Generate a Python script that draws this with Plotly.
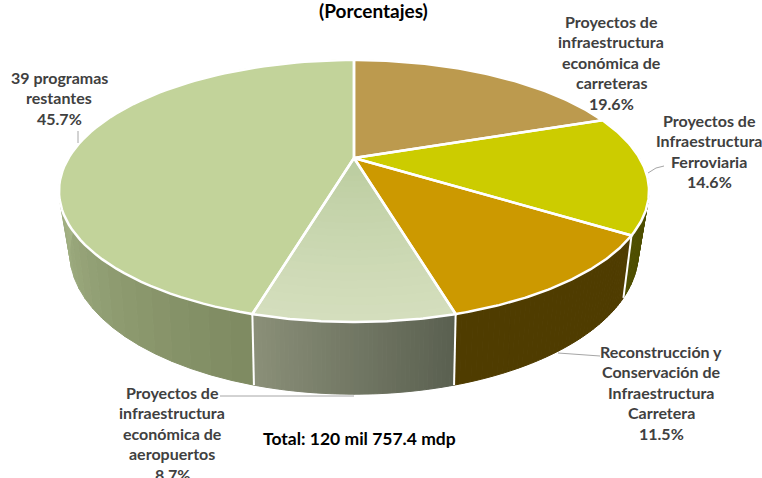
import numpy as np
import plotly.graph_objects as go

# rebanadas en el sentido del reloj desde arriba
etiquetas = [
    ["Proyectos de", "infraestructura", "económica de", "carreteras", "19.6%"],
    ["Proyectos de", "Infraestructura", "Ferroviaria", "14.6%"],
    ["Reconstrucción y", "Conservación de", "Infraestructura", "Carretera", "11.5%"],
    ["Proyectos de", "infraestructura", "económica de", "aeropuertos", "8.7%"],
    ["39 programas", "restantes", "45.7%"],
]
valores = [19.6, 14.6, 11.5, 8.7, 45.7]
color_tapa = ["#BC9A4E", "#CCCC00", "#CC9900", None, "#C2D39A"]
lado_ini = [None, "#4F4F00", "#4F3C00", "#5A6050", "#7F8B62"]
lado_fin = [None, "#4F4F00", "#4F3C00", "#8A8F78", "#DCEFBB"]
grad_tapa = ("#BACC9E", "#D4DEBD")

titulo = "(Porcentajes)"
total = "Total: 120 mil 757.4 mdp"

pos_etiquetas = [(611, 21), (709, 120), (661, 351), (172, 392), (59, 77)]
guias = [
    [(648, 173), (656, 168), (664, 166)],
    [(558, 353), (600, 356)],
    [(220, 396), (354, 396)],
    [(78, 131), (78, 143)],
]

# proyeccion en perspectiva de los dos circulos del cilindro
ARRIBA = dict(cy=158, a=285.5, b=122.7, k=0.252)
ABAJO = dict(cy=214, a=273.5, b=131.0, k=0.273)
CX = 354


def punto(t, r, p):
    w = 1 + p["k"] * r * np.cos(t)
    return CX + p["a"] * r * np.sin(t) / w, p["cy"] - p["b"] * r * np.cos(t) / w


def mezcla(c1, c2, f):
    a = [int(c1[i:i + 2], 16) for i in (1, 3, 5)]
    b = [int(c2[i:i + 2], 16) for i in (1, 3, 5)]
    return "rgb(%d,%d,%d)" % tuple(round(x + (y - x) * f) for x, y in zip(a, b))


cortes = 2 * np.pi * np.concatenate([[0], np.cumsum(valores)]) / sum(valores)
fig = go.Figure()


def poligono(x, y, color):
    fig.add_trace(go.Scatter(x=x, y=y, mode="lines", fill="toself", fillcolor=color,
                             line=dict(color=color, width=1), hoverinfo="skip"))


def linea(x, y, color, ancho):
    fig.add_trace(go.Scatter(x=x, y=y, mode="lines", line=dict(color=color, width=ancho),
                             hoverinfo="skip"))


# paredes laterales, de atras hacia adelante
for i in [1, 4, 2, 3]:
    pasos = np.linspace(cortes[i], cortes[i + 1], 45)
    for j in range(len(pasos) - 1):
        t1, t2 = pasos[j], pasos[j + 1]
        x1, y1 = punto(t1, 1, ARRIBA)
        x2, y2 = punto(t2, 1, ARRIBA)
        x3, y3 = punto(t2, 1, ABAJO)
        x4, y4 = punto(t1, 1, ABAJO)
        poligono([x1, x2, x3, x4, x1], [y1, y2, y3, y4, y1],
                 mezcla(lado_ini[i], lado_fin[i], j / (len(pasos) - 2)))

# separadores de las paredes
for t in cortes[2:5]:
    xa, ya = punto(t, 1, ARRIBA)
    xb, yb = punto(t, 1, ABAJO)
    linea([xa, xb], [ya, yb], "#FFFFFF", 2)

# tapa superior
for i in range(len(valores)):
    t = np.linspace(cortes[i], cortes[i + 1], 80)
    if color_tapa[i] is None:
        for r in np.linspace(1, 0.05, 24):
            x, y = punto(t, r, ARRIBA)
            poligono(np.r_[CX, x, CX], np.r_[ARRIBA["cy"], y, ARRIBA["cy"]],
                     mezcla(grad_tapa[0], grad_tapa[1], r))
    else:
        x, y = punto(t, 1, ARRIBA)
        poligono(np.r_[CX, x, CX], np.r_[ARRIBA["cy"], y, ARRIBA["cy"]], color_tapa[i])

for i in range(len(valores)):
    t = np.linspace(cortes[i], cortes[i + 1], 80)
    x, y = punto(t, 1, ARRIBA)
    linea(np.r_[CX, x, CX], np.r_[ARRIBA["cy"], y, ARRIBA["cy"]], "#FFFFFF", 2.5)

for g in guias:
    linea([p[0] for p in g], [p[1] for p in g], "#A6A6A6", 1)

# textos, una anotacion por renglon
for lineas, (lx, ly) in zip(etiquetas, pos_etiquetas):
    for n, txt in enumerate(lineas):
        fig.add_annotation(x=lx, y=ly + n * 20.6, text=f"<b>{txt}</b>", showarrow=False,
                           xanchor="center", yanchor="middle",
                           font=dict(family="Lato", size=16, color="#404040"))
fig.add_annotation(x=373, y=10, text=f"<b>{titulo}</b>", showarrow=False, yanchor="middle",
                   font=dict(family="Lato", size=19, color="#000000"))
fig.add_annotation(x=359, y=438, text=f"<b>{total}</b>", showarrow=False, yanchor="middle",
                   font=dict(family="Lato", size=17.5, color="#000000"))

fig.update_layout(
    width=762, height=478, margin=dict(l=0, r=0, t=0, b=0),
    paper_bgcolor="#FFFFFF", plot_bgcolor="#FFFFFF", showlegend=False,
    xaxis=dict(range=[0, 762], visible=False),
    yaxis=dict(range=[478, 0], visible=False),
)
# sin el margen por defecto de la pagina ni la barra de plotly
fig.write_html("out.html", config=dict(displayModeBar=False),
               post_script="document.body.style.margin='0';document.body.style.overflow='hidden';")
